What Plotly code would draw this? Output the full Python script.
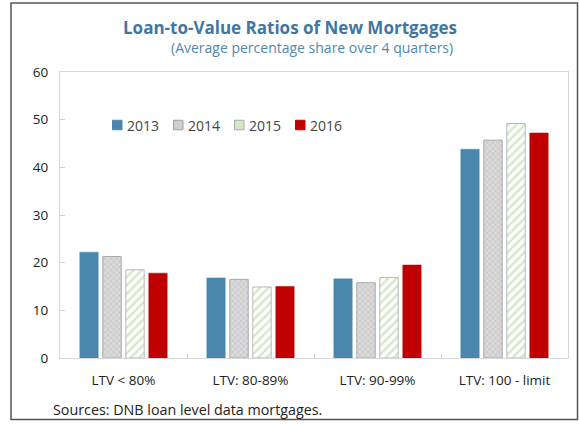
import plotly.graph_objects as go

categories = ["LTV < 80%", "LTV: 80-89%", "LTV: 90-99%", "LTV: 100 - limit"]
years = ["2013", "2014", "2015", "2016"]
v2013 = [22.2, 16.8, 16.6, 43.8]
v2014 = [21.3, 16.5, 15.8, 45.7]
v2015 = [18.5, 14.9, 16.9, 49.2]
v2016 = [17.8, 15.0, 19.5, 47.2]
y_ticks = [0, 10, 20, 30, 40, 50, 60]

series = [v2013, v2014, v2015, v2016]
styles = [
    dict(color="#4A87AD", line=dict(color="#4A87AD", width=0.5)),
    dict(color="#D4D4D4", line=dict(color="#A8A8A8", width=1),
         pattern=dict(shape="x", fgcolor="#9A9A9A", bgcolor="#DADADA", size=4, solidity=0.25)),
    dict(color="#FFFFFF", line=dict(color="#B8B8B8", width=1),
         pattern=dict(shape="/", fgcolor="#A9CF8E", bgcolor="#FFFFFF", size=6, solidity=0.4)),
    dict(color="#C00000", line=dict(color="#C00000", width=0.5)),
]
legend_fill = ["#4A87AD", "#CFCFCF", "#D3E7C4", "#C00000"]
legend_line = ["#4A87AD", "#A0A0A0", "#A8A8A8", "#C00000"]

fig = go.Figure()
for name, vals, st in zip(years, series, styles):
    fig.add_trace(go.Bar(x=categories, y=vals, name=name, marker=st, showlegend=False,
                         hoverinfo="skip"))

W, H = 579, 424
L, R, T, B = 60, 11, 72, 66
pw, ph = W - L - R, H - T - B

def px(X):
    return (X - L) / pw

def py(Y):
    return (H - B - Y) / ph

font = "Open Sans, Noto Sans, sans-serif"

annotations = [
    dict(text="<b>Loan-to-Value Ratios of New Mortgages</b>", xref="paper", yref="paper",
         x=px(290), y=py(27), xanchor="center", yanchor="middle", showarrow=False,
         font=dict(size=17, color="#3E77A3", family=font)),
    dict(text="(Average percentage share over 4 quarters)", xref="paper", yref="paper",
         x=px(312), y=py(48), xanchor="center", yanchor="middle", showarrow=False,
         font=dict(size=14, color="#5087B0", family=font)),
    dict(text="Sources: DNB loan level data mortgages.", xref="paper", yref="paper",
         x=px(51), y=py(409), xanchor="left", yanchor="middle", showarrow=False,
         font=dict(size=14.3, color="#222222", family=font)),
]
shapes = [
    dict(type="rect", xref="paper", yref="paper", x0=px(11), x1=px(577.5),
         y0=py(419.5), y1=py(3), line=dict(color="#555555", width=1.5),
         fillcolor="rgba(0,0,0,0)", layer="above"),
]

# custom legend (square + text, tight spacing as in the reference)
leg_x0 = 112.5
leg_pitch = 61
leg_y = 125
for i, name in enumerate(years):
    sx = leg_x0 + i * leg_pitch
    shapes.append(dict(type="rect", xref="paper", yref="paper",
                       x0=px(sx), x1=px(sx + 9.5), y0=py(leg_y + 4.75), y1=py(leg_y - 4.75),
                       fillcolor=legend_fill[i], line=dict(color=legend_line[i], width=1)))
    annotations.append(dict(text=name, xref="paper", yref="paper", x=px(sx + 12),
                            y=py(leg_y), xanchor="left", yanchor="middle", showarrow=False,
                            font=dict(size=14, color="#444444", family=font)))

fig.update_layout(
    width=W, height=H,
    margin=dict(l=L, r=R, t=T, b=B),
    paper_bgcolor="white", plot_bgcolor="white",
    font=dict(family=font, size=13, color="#333333"),
    barmode="group", bargap=0.276, bargroupgap=0.2,
    showlegend=False,
    xaxis=dict(showline=True, linecolor="#D8D8D8", linewidth=1, mirror=True,
               ticks="inside", tickson="boundaries", ticklen=4, tickcolor="#D0D0D0",
               tickfont=dict(size=13.5, color="#222222"), showgrid=False,
               ticklabelstandoff=10),
    yaxis=dict(range=[0, 60], tickvals=y_ticks, showline=True, linecolor="#D8D8D8",
               linewidth=1, mirror=True, ticks="inside", ticklen=5, tickcolor="#D0D0D0",
               tickfont=dict(size=13.5, color="#222222"), showgrid=False, zeroline=False,
               ticklabelstandoff=8),
    annotations=annotations,
    shapes=shapes,
)

fig.write_html("out.html", config={"displayModeBar": False},
               post_script="document.body.style.margin='0px';")
